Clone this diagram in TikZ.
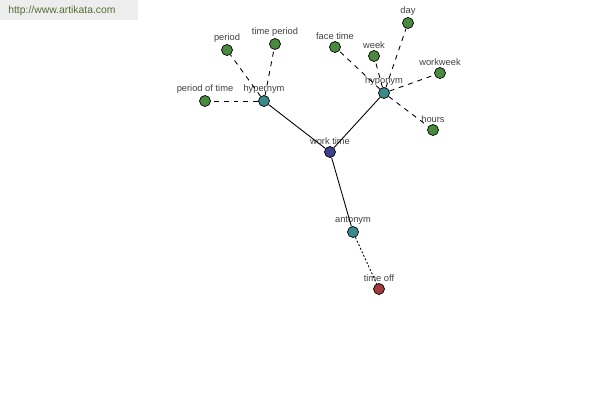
\documentclass[tikz,border=0pt]{standalone}
\usepackage{fontspec}
\setmainfont{Liberation Sans}
\definecolor{leaf}{RGB}{74,138,62}
\definecolor{rel}{RGB}{58,138,140}
\definecolor{root}{RGB}{58,64,138}
\definecolor{anto}{RGB}{160,60,60}
\definecolor{site}{RGB}{85,110,50}
\begin{document}
\begin{tikzpicture}[x=0.02cm,y=-0.02cm]
\tikzstyle{vx} = [circle,draw=black,line width=0.4pt,minimum size=0.22cm,inner sep=0pt] %vertex
\tikzstyle{lb} = [font=\fontsize{5.3}{6}\selectfont,text=black!75,inner sep=0.5pt] %label
\tikzstyle{se} = [-,line width=0.5pt] %solid edge
\tikzstyle{de} = [-,line width=0.5pt,dash pattern=on 2.8pt off 2.8pt] %dashed edge
\tikzstyle{te} = [-,line width=0.5pt,dash pattern=on 1.1pt off 1.1pt] %dotted edge
\useasboundingbox (0,0) rectangle (600,400);
\fill[black!7] (0,0) rectangle (138,20);
\node[anchor=west,text=site,font=\fontsize{5.9}{7}\selectfont,inner sep=0pt](vsite)at(8,11){http://www.artikata.com};
\node[vx,fill=root,label={[lb]above:work time}](vwork)at(330,152){};
\node[vx,fill=rel,label={[lb]above:hypernym}](vhyper)at(264,101){};
\node[vx,fill=rel,label={[lb]above:hyponym}](vhypo)at(384,93){};
\node[vx,fill=rel,label={[lb]above:antonym}](vanto)at(353,232){};
\node[vx,fill=anto,label={[lb]above:time off}](voff)at(379,289){};
\node[vx,fill=leaf,label={[lb]above:period of time}](vpot)at(205,101){};
\node[vx,fill=leaf,label={[lb]above:period}](vper)at(227,50){};
\node[vx,fill=leaf,label={[lb]above:time period}](vtp)at(275,44){};
\node[vx,fill=leaf,label={[lb]above:face time}](vface)at(335,47){};
\node[vx,fill=leaf,label={[lb]above:week}](vweek)at(374,56){};
\node[vx,fill=leaf,label={[lb]above:day}](vday)at(408,23){};
\node[vx,fill=leaf,label={[lb]above:workweek}](vww)at(440,73){};
\node[vx,fill=leaf,label={[lb]above:hours}](vhours)at(433,130){};
\draw[se](vwork)--(vhyper);
\draw[se](vwork)--(vhypo);
\draw[se](vwork)--(vanto);
\draw[te](vanto)--(voff);
\draw[de](vhyper)--(vpot);
\draw[de](vhyper)--(vper);
\draw[de](vhyper)--(vtp);
\draw[de](vhypo)--(vface);
\draw[de](vhypo)--(vweek);
\draw[de](vhypo)--(vday);
\draw[de](vhypo)--(vww);
\draw[de](vhypo)--(vhours);
\end{tikzpicture}
\end{document}
